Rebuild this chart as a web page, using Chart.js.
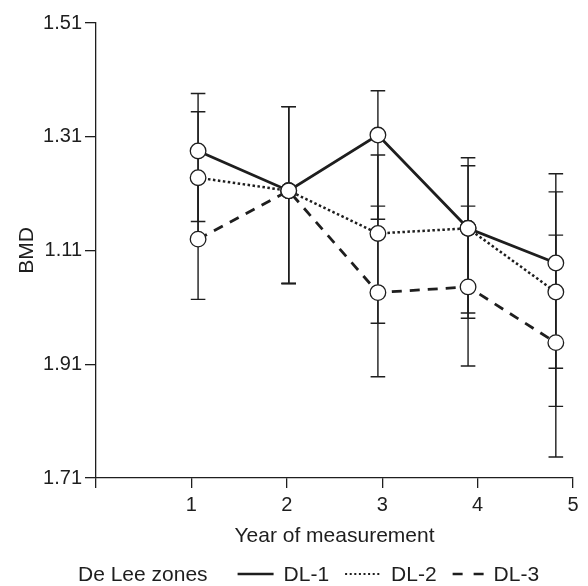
<!DOCTYPE html>
<html><head><meta charset="utf-8">
<script src="https://cdn.jsdelivr.net/npm/chart.js@4.4.1/dist/chart.umd.min.js"></script>
<style>html,body{margin:0;padding:0;background:#fff}#wrap{width:588px;height:586px;position:relative}</style>
</head><body><div id="wrap"><canvas id="c" width="588" height="586"></canvas></div>
<script>
// ---- data ----
const years = [1, 2, 3, 4, 5];
const yearX = [1.07, 2.02, 2.955, 3.90, 4.82];      // where each year's points sit on the x axis
const xTickValues = [0, 1, 2, 3, 4, 5];
const xTickLabels = ["", "1", "2", "3", "4", "5"];
const yTickValues = [0.71, 0.91, 1.11, 1.31, 1.51];
const yTickLabels = ["1.71", "1.91", "1.11", "1.31", "1.51"];
const seriesNames = ["DL-1", "DL-2", "DL-3"];
const dl1Mean = [1.285, 1.215, 1.313, 1.149, 1.088];
const dl2Mean = [1.238, 1.215, 1.140, 1.149, 1.037];
const dl3Mean = [1.130, 1.215, 1.036, 1.046, 0.948];
const dl1Low  = [1.161, 1.052, 1.165, 1.000, 0.903];
const dl1High = [1.386, 1.363, 1.391, 1.273, 1.213];
const dl2Low  = [1.130, 1.052, 0.982, 0.991, 0.836];
const dl2High = [1.354, 1.363, 1.278, 1.259, 1.245];
const dl3Low  = [1.024, 1.052, 0.888, 0.907, 0.747];
const dl3High = [1.238, 1.363, 1.188, 1.188, 1.137];
const xTitle = "Year of measurement";
const yTitle = "BMD";
const legendTitle = "De Lee zones";

// ---- styles ----
const FONT = "'Liberation Sans', Arial, Helvetica, sans-serif";
const INK = '#1e1e1e';

function pts(mean) { return years.map((_, i) => ({ x: yearX[i], y: mean[i] })); }
function ds(name, mean, low, high, dash, width) {
  return {
    label: name, data: pts(mean), errLow: low, errHigh: high,
    borderColor: INK, borderWidth: width, borderDash: dash, tension: 0, fill: false,
    pointRadius: 7.8, pointHoverRadius: 7.8, pointBorderWidth: 1.3,
    pointBackgroundColor: '#ffffff', pointBorderColor: INK
  };
}

const errorBars = {
  id: 'errorBars',
  beforeDatasetsDraw(chart) {
    const { ctx, scales: { x, y } } = chart;
    ctx.save();
    ctx.strokeStyle = INK; ctx.lineWidth = 1.4; ctx.setLineDash([]);
    chart.data.datasets.forEach(d => {
      d.data.forEach((p, i) => {
        const px = x.getPixelForValue(p.x);
        const yl = y.getPixelForValue(d.errLow[i]);
        const yh = y.getPixelForValue(d.errHigh[i]);
        ctx.beginPath();
        ctx.moveTo(px, yl); ctx.lineTo(px, yh);
        ctx.moveTo(px - 7.3, yl); ctx.lineTo(px + 7.3, yl);
        ctx.moveTo(px - 7.3, yh); ctx.lineTo(px + 7.3, yh);
        ctx.stroke();
      });
    });
    ctx.restore();
  }
};

const bottomLegend = {
  id: 'bottomLegend',
  afterDraw(chart) {
    const { ctx } = chart;
    ctx.save();
    ctx.font = '21px ' + FONT;
    ctx.fillStyle = INK; ctx.textBaseline = 'alphabetic';
    const yBase = 581, yLine = 574;
    let xx = 78;
    ctx.fillText(legendTitle, xx, yBase);
    xx += ctx.measureText(legendTitle).width + 30;
    const samples = [
      { dash: [], w: 2.6, len: 36 },
      { dash: [2, 2.6], w: 2, len: 36 },
      { dash: [10, 11], w: 2.6, len: 31 }
    ];
    chart.data.datasets.forEach((d, i) => {
      const s = samples[i];
      ctx.beginPath();
      ctx.strokeStyle = INK; ctx.lineWidth = s.w; ctx.setLineDash(s.dash);
      ctx.moveTo(xx, yLine); ctx.lineTo(xx + s.len, yLine); ctx.stroke();
      xx += s.len + 10;
      ctx.fillText(d.label, xx, yBase);
      xx += ctx.measureText(d.label).width + 16;
    });
    ctx.restore();
  }
};

new Chart(document.getElementById('c'), {
  type: 'line',
  data: {
    datasets: [
      ds(seriesNames[0], dl1Mean, dl1Low, dl1High, [], 2.8),
      ds(seriesNames[1], dl2Mean, dl2Low, dl2High, [2.5, 2.5], 2.5),
      ds(seriesNames[2], dl3Mean, dl3Low, dl3High, [10, 8], 2.8)
    ]
  },
  options: {
    responsive: false, animation: false, devicePixelRatio: 1,
    layout: { padding: { top: 23, right: 15, left: 0, bottom: 0 } },
    plugins: { legend: { display: false }, tooltip: { enabled: false } },
    scales: {
      x: {
        type: 'linear', min: 0, max: 5,
        afterBuildTicks: s => { s.ticks = xTickValues.map(v => ({ value: v })); },
        afterFit: s => { s.height = 108; },
        ticks: { callback: (v, i) => xTickLabels[i], autoSkip: false, maxRotation: 0,
                 font: { size: 20, family: FONT }, color: INK, padding: 5 },
        grid: { display: true, drawOnChartArea: false, drawTicks: true, tickLength: 10, color: INK, lineWidth: 1.3 },
        border: { display: true, color: INK, width: 1.3 },
        title: { display: true, text: xTitle, color: INK, font: { size: 21, family: FONT },
                 padding: { top: 0, bottom: 37 } }
      },
      y: {
        type: 'linear', min: 0.71, max: 1.51,
        afterBuildTicks: s => { s.ticks = yTickValues.map(v => ({ value: v })); },
        afterFit: s => { s.width = 96; },
        ticks: { callback: (v, i) => yTickLabels[i], font: { size: 20, family: FONT }, color: INK, padding: 3 },
        grid: { display: true, drawOnChartArea: false, drawTicks: true, tickLength: 11, color: INK, lineWidth: 1.3 },
        border: { display: true, color: INK, width: 1.3 },
        title: { display: true, text: yTitle, color: INK, font: { size: 21, family: FONT },
                 padding: { top: 15, bottom: 0 } }
      }
    }
  },
  plugins: [errorBars, bottomLegend]
});
</script></body></html>
